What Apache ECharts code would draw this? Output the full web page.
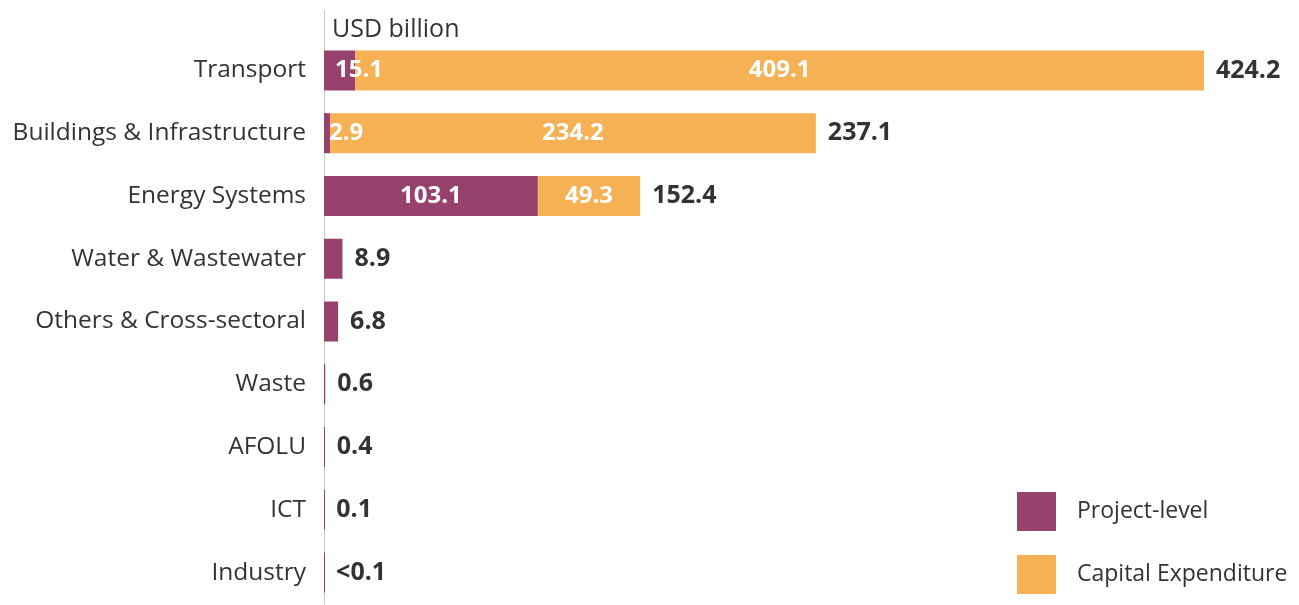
<!DOCTYPE html>
<html>
<head>
<meta charset="utf-8">
<script src="https://cdn.jsdelivr.net/npm/echarts@6/dist/echarts.min.js"></script>
<style>
  html, body { margin: 0; padding: 0; background: #fff; }
  #chart { width: 1299px; height: 605px; }
</style>
</head>
<body>
<div id="chart"></div>
<script>
// Climate finance by sector, USD billion
const categories = ['Transport', 'Buildings & Infrastructure', 'Energy Systems', 'Water & Wastewater',
  'Others & Cross-sectoral', 'Waste', 'AFOLU', 'ICT', 'Industry'];
const projectLevel = [15.1, 2.9, 103.1, 8.9, 6.8, 0.6, 0.4, 0.1, 0.05];
const capitalExpenditure = [409.1, 234.2, 49.3, null, null, null, null, null, null];
const totals = [424.2, 237.1, 152.4, 8.9, 6.8, 0.6, 0.4, 0.1, 0.05];
const totalLabels = ['424.2', '237.1', '152.4', '8.9', '6.8', '0.6', '0.4', '0.1', '<0.1'];
// Only segments wide enough get an inside label
const projectLabelPos = ['insideLeft', 'insideLeft', 'inside', null, null, null, null, null, null];
const projectLabelDist = [11, 5, 5, 5, 5, 5, 5, 5, 5];

const FONT = 'Open Sans';
const PURPLE = '#97426d';
const ORANGE = '#f6b155';

const chart = echarts.init(document.getElementById('chart'), null, { renderer: 'canvas' });

const projectData = projectLevel.map((v, i) => ({
  value: v,
  label: projectLabelPos[i]
    ? { show: true, position: projectLabelPos[i], distance: projectLabelDist[i] }
    : { show: false }
}));

const capexData = capitalExpenditure.map(v => ({ value: v }));

chart.setOption({
  animation: false,
  textStyle: { fontFamily: FONT },
  title: {
    text: 'USD billion',
    left: 332, top: 17, padding: 0,
    textStyle: { fontFamily: FONT, fontSize: 25, fontWeight: 'normal', color: '#333' }
  },
  legend: {
    data: ['Project-level', 'Capital Expenditure'],
    orient: 'vertical',
    left: 1017, top: 492, padding: 0,
    itemWidth: 39, itemHeight: 39, itemGap: 24,
    icon: 'rect',
    textStyle: { fontFamily: FONT, fontSize: 23, color: '#333', padding: [0, 0, 0, 16] }
  },
  grid: { left: 324, right: 41.5, top: 39, bottom: 1, containLabel: false },
  xAxis: {
    type: 'value', min: 0, max: 450,
    show: false
  },
  yAxis: {
    type: 'category',
    data: categories,
    inverse: true,
    axisLine: { show: true, lineStyle: { color: '#c8c8c8', width: 1 } },
    axisTick: { show: false },
    axisLabel: { fontFamily: FONT, fontSize: 24.5, color: '#333', margin: 18 }
  },
  graphic: [{
    type: 'line',
    shape: { x1: 324.5, y1: 10, x2: 324.5, y2: 40 },
    style: { stroke: '#c8c8c8', lineWidth: 1 }
  }],
  series: [
    {
      name: 'Project-level', type: 'bar', stack: 'total', barWidth: 40, barMinHeight: 1,
      itemStyle: { color: PURPLE },
      label: { color: '#fff', fontFamily: FONT, fontSize: 24, fontWeight: 'bold' },
      data: projectData, z: 3
    },
    {
      name: 'Capital Expenditure', type: 'bar', stack: 'total', barWidth: 40,
      itemStyle: { color: ORANGE },
      label: { show: true, position: 'inside', color: '#fff', fontFamily: FONT, fontSize: 24, fontWeight: 'bold' },
      data: capexData, z: 3
    },
    {
      name: 'Total', type: 'bar', barWidth: 40, barGap: '-100%',
      itemStyle: { color: 'rgba(0,0,0,0)' },
      label: {
        show: true, position: 'right', distance: 12,
        color: '#333', fontFamily: FONT, fontSize: 25, fontWeight: 'bold',
        formatter: p => totalLabels[p.dataIndex]
      },
      data: totals, z: 1, silent: true
    }
  ]
});
</script>
</body>
</html>
